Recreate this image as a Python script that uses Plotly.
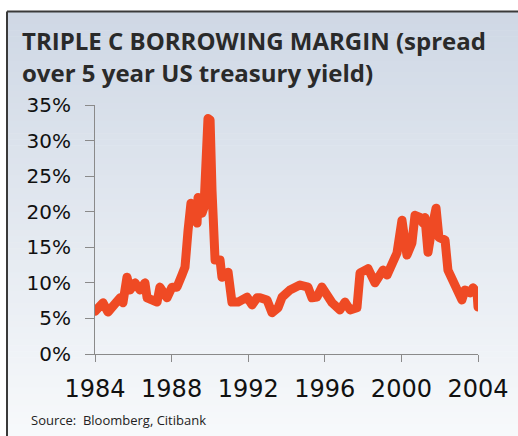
import plotly.graph_objects as go

years = [1984.0, 1984.09, 1984.42, 1984.68, 1985.04, 1985.31, 1985.46, 1985.67, 1985.83, 1986.09,
         1986.35, 1986.61, 1986.72, 1987.24, 1987.39, 1987.76, 1988.02, 1988.28, 1988.54, 1988.70,
         1988.86, 1989.01, 1989.12, 1989.33, 1989.38, 1989.59, 1989.69, 1989.80, 1989.90, 1990.01,
         1990.11, 1990.27, 1990.53, 1990.63, 1990.95, 1991.15, 1991.47, 1991.94, 1992.20, 1992.46,
         1992.62, 1992.98, 1993.24, 1993.56, 1993.77, 1994.18, 1994.70, 1995.12, 1995.33, 1995.59,
         1995.85, 1996.38, 1996.79, 1997.05, 1997.32, 1997.68, 1997.84, 1997.99, 1998.26, 1998.62,
         1999.04, 1999.25, 1999.56, 1999.77, 2000.03, 2000.29, 2000.55, 2000.71, 2000.97, 2001.13,
         2001.23, 2001.39, 2001.60, 2001.81, 2001.96, 2002.28, 2002.43, 2002.69, 2002.90, 2003.16,
         2003.32, 2003.58, 2003.74, 2003.95, 2004.0]
spread = [6.0, 6.2, 7.2, 5.9, 7.2, 7.9, 7.2, 10.8, 9.0, 10.0,
          9.0, 10.0, 7.9, 7.3, 9.4, 7.9, 9.4, 9.4, 11.1, 12.2,
          17.4, 21.2, 20.9, 18.4, 22.0, 19.8, 20.6, 26.3, 33.1, 32.9,
          23.0, 13.2, 13.2, 10.8, 11.5, 7.3, 7.3, 8.0, 6.9, 7.9,
          7.9, 7.6, 5.8, 6.5, 8.0, 9.0, 9.7, 9.4, 7.9, 8.0,
          9.4, 7.2, 6.2, 7.3, 6.2, 6.5, 11.4, 11.5, 12.0, 10.0,
          11.8, 11.1, 12.8, 14.2, 18.8, 13.9, 15.6, 19.5, 19.2, 18.4,
          19.2, 14.3, 17.8, 20.5, 16.4, 16.0, 11.8, 10.0, 8.6, 7.6,
          9.0, 8.6, 9.3, 8.6, 6.6]

x_ticks = [1984, 1988, 1992, 1996, 2000, 2004]
y_ticks = [0, 5, 10, 15, 20, 25, 30, 35]
y_tick_labels = [f"{v}%" for v in y_ticks]
title_lines = ["TRIPLE C BORROWING MARGIN (spread", "over 5 year US treasury yield)"]
source_text = "Source:  Bloomberg, Citibank"

W, H = 518, 436
L, R, T, B = 95, 478, 105, 354
pw, ph = R - L, B - T

def px(x):
    return (x - L) / pw

def py(y):
    return (B - y) / ph

shapes = []
top_c = (207, 216, 229)
bot_c = (247, 249, 251)
y0, y1 = 12, H
n = 70
for i in range(n):
    a = y0 + (y1 - y0) * i / n
    b = y0 + (y1 - y0) * (i + 1) / n + 0.6
    t = i / (n - 1)
    c = tuple(int(round(top_c[k] + (bot_c[k] - top_c[k]) * t)) for k in range(3))
    shapes.append(dict(type="rect", xref="paper", yref="paper", x0=px(8), x1=px(W + 5),
                       y0=py(a), y1=py(b), fillcolor=f"rgb{c}", line=dict(width=0), layer="below"))
# frame
shapes.append(dict(type="line", xref="paper", yref="paper", x0=px(7), x1=px(W + 5), y0=py(11.5), y1=py(11.5),
                   line=dict(color="#3a3a3a", width=2), layer="below"))
shapes.append(dict(type="line", xref="paper", yref="paper", x0=px(7), x1=px(7), y0=py(11.5), y1=py(H + 5),
                   line=dict(color="#3a3a3a", width=2), layer="below"))

fig = go.Figure()
fig.add_trace(go.Scatter(x=years, y=spread, mode="lines",
                         line=dict(color="#ef4a24", width=9), hoverinfo="skip"))

title_font = dict(family="Open Sans", size=24, color="#2a2a2a", weight="bold")
annotations = [
    dict(text=title_lines[0], xref="paper", yref="paper", x=px(20), y=py(40), xanchor="left",
         yanchor="middle", showarrow=False, font=title_font),
    dict(text=title_lines[1], xref="paper", yref="paper", x=px(20), y=py(73), xanchor="left",
         yanchor="middle", showarrow=False, font=title_font),
    dict(text=source_text, xref="paper", yref="paper",
         x=px(29), y=py(420), xanchor="left", yanchor="middle", showarrow=False,
         font=dict(family="Open Sans", size=13, color="#222")),
]

fig.update_layout(
    width=W, height=H,
    margin=dict(l=L, r=W - R, t=T, b=H - B, autoexpand=False),
    paper_bgcolor="white", plot_bgcolor="rgba(0,0,0,0)",
    showlegend=False,
    shapes=shapes,
    annotations=annotations,
    xaxis=dict(range=[1984, 2004], tickvals=x_ticks, ticktext=[str(v) for v in x_ticks],
               automargin=False,
               showgrid=False, zeroline=False, showline=True, linecolor="#8a8a8a", linewidth=1,
               ticks="outside", ticklen=7, tickcolor="#8a8a8a",
               tickfont=dict(family="DejaVu Sans", size=24, color="#111"), ticklabelstandoff=6),
    yaxis=dict(range=[0, 35], tickvals=y_ticks, ticktext=y_tick_labels,
               automargin=False,
               showgrid=False, zeroline=False, showline=True, linecolor="#8a8a8a", linewidth=1,
               ticks="outside", ticklen=9, tickcolor="#8a8a8a",
               tickfont=dict(family="DejaVu Sans", size=20, color="#111"), ticklabelstandoff=10),
)

post = (
    "document.body.style.margin='0px';"
    "var st=document.createElement('style');"
    "st.textContent='.scatterlayer path.js-line{stroke-linejoin:round !important;stroke-linecap:round !important;}';"
    "document.head.appendChild(st);"
)
fig.write_html("out.html", config={"displayModeBar": False}, post_script=post)
